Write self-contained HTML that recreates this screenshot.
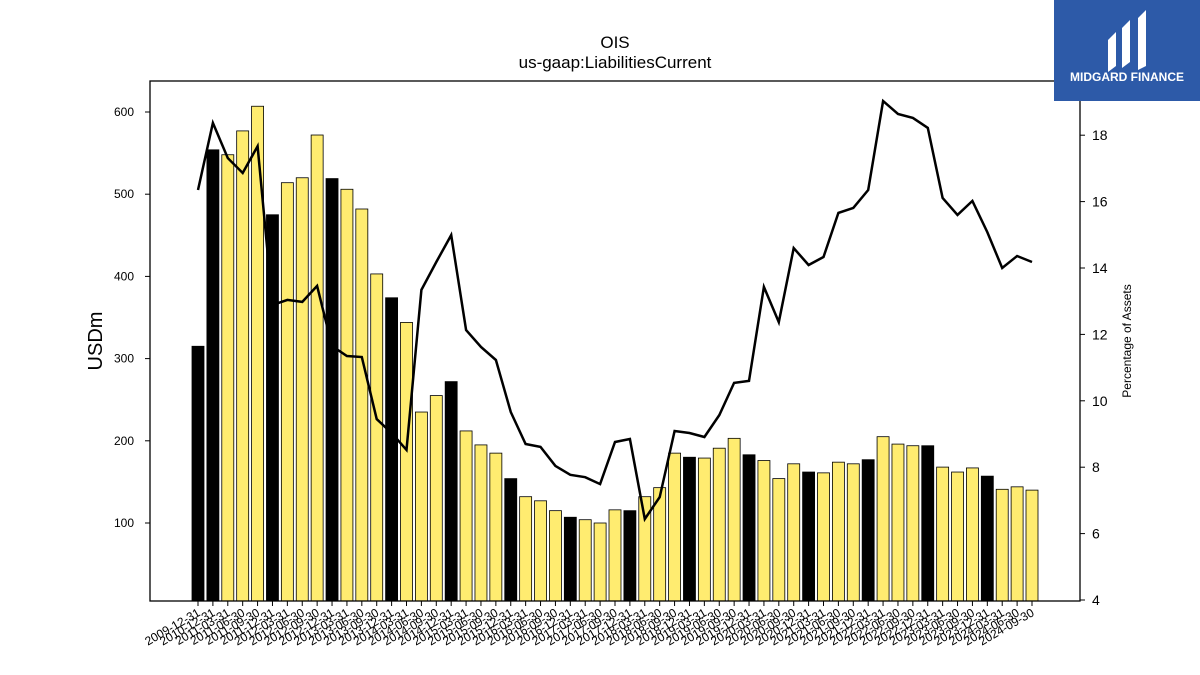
<!DOCTYPE html>
<html><head><meta charset="utf-8"><style>
body{margin:0;background:#fff;}
svg{display:block;font-family:"Liberation Sans","DejaVu Sans",sans-serif;}
</style></head><body>
<svg id="chart" width="1200" height="675" viewBox="0 0 1200 675">
<text x="615" y="48" text-anchor="middle" font-size="17">OIS</text>
<text x="615" y="68" text-anchor="middle" font-size="17">us-gaap:LiabilitiesCurrent</text>
<text transform="translate(102,341) rotate(-90)" text-anchor="middle" font-size="20">USDm</text>
<text transform="translate(1131,341) rotate(-90)" text-anchor="middle" font-size="12">Percentage of Assets</text>
<g id="bars"></g>
<g id="xticks"></g>
<g id="yticks"></g>
<g id="y2ticks"></g>
<path id="line" fill="none" stroke="#000" stroke-width="2.5"/>
<rect x="150" y="81" width="930" height="520" fill="none" stroke="#000" stroke-width="1.3"/>
<g>
<rect x="1054" y="0" width="146" height="101" fill="#2d5aa8"/>
<path d="M1108 40 L1116 32 L1116 66 L1108 72 Z M1122 28 L1130 20 L1130 62 L1122 68 Z M1138 18 L1146 10 L1146 66 L1138 70 Z" fill="#fff"/>
<text x="1127" y="81" text-anchor="middle" font-size="12" font-weight="bold" fill="#fff">MIDGARD FINANCE</text>
</g>
</svg>
<script>
const NS="http://www.w3.org/2000/svg";
const dates=["2009-12-31","2010-12-31","2011-03-31","2011-06-30","2011-09-30","2011-12-31","2012-03-31","2012-06-30","2012-09-30","2012-12-31","2013-03-31","2013-06-30","2013-09-30","2013-12-31","2014-03-31","2014-06-30","2014-09-30","2014-12-31","2015-03-31","2015-06-30","2015-09-30","2015-12-31","2016-03-31","2016-06-30","2016-09-30","2016-12-31","2017-03-31","2017-06-30","2017-09-30","2017-12-31","2018-03-31","2018-06-30","2018-09-30","2018-12-31","2019-03-31","2019-06-30","2019-09-30","2019-12-31","2020-03-31","2020-06-30","2020-09-30","2020-12-31","2021-03-31","2021-06-30","2021-09-30","2021-12-31","2022-03-31","2022-06-30","2022-09-30","2022-12-31","2023-03-31","2023-06-30","2023-09-30","2023-12-31","2024-03-31","2024-06-30","2024-09-30"];
const liabilities=[315,554,548,577,607,475,514,520,572,519,506,482,403,374,344,235,255,272,212,195,185,154,132,127,115,107,104,100,116,115,132,143,185,180,179,191,203,183,176,154,172,162,161,174,172,177,205,196,194,194,168,162,167,157,141,144,140];
const pctAssets=[16.35,18.37,17.31,16.86,17.67,12.89,13.04,12.98,13.46,11.65,11.35,11.32,9.45,9.03,8.52,13.34,14.18,14.99,12.13,11.62,11.23,9.66,8.70,8.61,8.04,7.77,7.70,7.49,8.76,8.85,6.44,7.10,9.09,9.03,8.91,9.57,10.54,10.60,13.43,12.37,14.60,14.09,14.33,15.66,15.81,16.35,19.03,18.64,18.52,18.22,16.11,15.60,16.02,15.08,14.00,14.36,14.18];
const yTicks=[100,200,300,400,500,600];
const y2Ticks=[4,6,8,10,12,14,16,18];
const xPos=i=>198+i*(1032-198)/(dates.length-1);
const yL=v=>605.2-0.822*v;
const yR=v=>600-(v-4)*33.2;
function mk(tag,attrs,parent){const e=document.createElementNS(NS,tag);for(const k in attrs)e.setAttribute(k,attrs[k]);parent.appendChild(e);return e;}
const bars=document.getElementById('bars'),xt=document.getElementById('xticks');
dates.forEach((d,i)=>{
  const x=xPos(i),top=yL(liabilities[i]);
  const annual=d.endsWith("12-31")&&i!==2;
  const r=mk('rect',{x:x-6,y:top,width:12,height:601-top,fill:annual?'#000':'#ffec70',stroke:'#000','stroke-width':0.8},bars);
  
  
  const t=mk('line',{x1:x,x2:x,y1:601,y2:606,stroke:'#000'},xt);
  
  
  const l=mk('text',{transform:`translate(${x+3},${615}) rotate(-30)`,'text-anchor':'end','font-size':12},xt);
  l.textContent=d;
  
  
});
const yt=document.getElementById('yticks');
yTicks.forEach(v=>{
  const y=yL(v);
  const t=mk('line',{x1:145,x2:150,y1:y,y2:y,stroke:'#000'},yt);
  
  
  const l=mk('text',{x:134,y:y+4,'text-anchor':'end','font-size':12},yt);
  l.textContent=v;
  
  
});
const y2=document.getElementById('y2ticks');
y2Ticks.forEach(v=>{
  const y=yR(v);
  const t=mk('line',{x1:1080,x2:1085,y1:y,y2:y,stroke:'#000'},y2);
  
  
  const l=mk('text',{x:1092,y:y+5,'font-size':14},y2);
  l.textContent=v;
  
  
});
document.getElementById('line').setAttribute('d',pctAssets.map((v,i)=>(i?'L':'M')+xPos(i).toFixed(1)+' '+yR(v).toFixed(1)).join(' '));
</script>
</body></html>
